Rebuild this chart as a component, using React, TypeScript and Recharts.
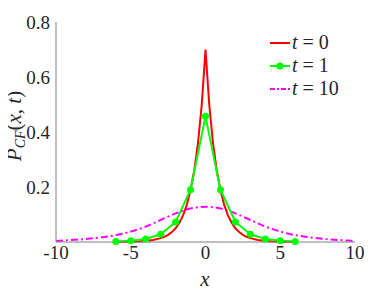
import { LineChart, Line, XAxis, YAxis, Legend } from 'recharts';

// t = 0 (red)
const redX = [-6, -5.5, -5, -4.5, -4, -3.5, -3, -2.75, -2.5, -2.25, -2, -1.75, -1.5, -1.25, -1, -0.75, -0.5, -0.25, 0,
  0.25, 0.5, 0.75, 1, 1.25, 1.5, 1.75, 2, 2.25, 2.5, 2.75, 3, 3.5, 4, 4.5, 5, 5.5, 6];
const redY = [0, 0.0005, 0.001, 0.002, 0.004, 0.007, 0.014, 0.019, 0.026, 0.036, 0.05, 0.07, 0.097, 0.135, 0.19, 0.26, 0.36, 0.5, 0.7,
  0.5, 0.36, 0.26, 0.19, 0.135, 0.097, 0.07, 0.05, 0.036, 0.026, 0.019, 0.014, 0.007, 0.004, 0.002, 0.001, 0.0005, 0];

// t = 1 (green, markers)
const greenX = [-6, -5, -4, -3, -2, -1, 0, 1, 2, 3, 4, 5, 6];
const greenY = [0.002, 0.005, 0.011, 0.028, 0.073, 0.19, 0.457, 0.19, 0.073, 0.028, 0.011, 0.005, 0.002];

// t = 10 (magenta, dash-dot)
const magentaX = [-10, -9, -8, -7, -6, -5, -4, -3, -2, -1, 0, 1, 2, 3, 4, 5, 6, 7, 8, 9, 10];
const magentaY = [0.004, 0.007, 0.011, 0.017, 0.025, 0.038, 0.056, 0.08, 0.104, 0.122, 0.128,
  0.122, 0.104, 0.08, 0.056, 0.038, 0.025, 0.017, 0.011, 0.007, 0.004];

const xTicks = [-10, -5, 0, 5, 10];
const yTicks = [0.2, 0.4, 0.6, 0.8];

const legendItems = [
  { label: '0', color: '#ff0000', dash: undefined, dot: false },
  { label: '1', color: '#00ff00', dash: undefined, dot: true },
  { label: '10', color: '#ff00ff', dash: '5 2 2 2', dot: false },
];

const toRows = (xs: number[], ys: number[]) => xs.map((x, i) => ({ x, y: ys[i] }));
const redData = toRows(redX, redY);
const greenData = toRows(greenX, greenY);
const magentaData = toRows(magentaX, magentaY);

const FONT = 'Liberation Serif';
const AXIS = '#808080';
const INK = '#262626';

const YLabel = () => (
  <text
    x={21}
    y={126}
    transform="rotate(-90 21 126)"
    textAnchor="middle"
    fontFamily={FONT}
    style={{ fontFamily: FONT }}
    fontSize={21}
    fill={INK}
  >
    <tspan fontStyle="italic">P</tspan>
    <tspan fontStyle="italic" fontSize={14} dy={4}>CF</tspan>
    <tspan dy={-4}>(</tspan>
    <tspan fontStyle="italic">x</tspan>
    <tspan>, </tspan>
    <tspan fontStyle="italic">t</tspan>
    <tspan>)</tspan>
  </text>
);

const XLabel = () => (
  <text
    x={205}
    y={286}
    textAnchor="middle"
    fontFamily={FONT}
    style={{ fontFamily: FONT }}
    fontSize={21}
    fontStyle="italic"
    fill={INK}
  >
    x
  </text>
);

const renderLegend = () => (
  <svg width={100} height={72}>
    {legendItems.map((item, i) => {
      const cy = 13 + i * 23;
      return (
        <g key={item.label}>
          <line x1={2} x2={22} y1={cy} y2={cy} stroke={item.color} strokeWidth={2} strokeDasharray={item.dash} />
          {item.dot && <circle cx={12} cy={cy} r={3.5} fill={item.color} />}
          <text x={24} y={cy + 6} fontFamily={FONT} style={{ fontFamily: FONT }} fontSize={20} fill={INK}>
            <tspan fontStyle="italic">t</tspan>
            <tspan> = {item.label}</tspan>
          </text>
        </g>
      );
    })}
  </svg>
);

export default function App() {
  return (
    <div style={{ margin: -8, width: 392, height: 294, background: '#fff' }}>
      <LineChart width={392} height={294} margin={{ top: 22, right: 37, bottom: 22, left: 16 }}>
        <XAxis
          xAxisId="b"
          dataKey="x"
          type="number"
          domain={[-10, 10]}
          ticks={xTicks}
          allowDataOverflow
          height={30}
          stroke={AXIS}
          tickLine={false}
          tickSize={4}
          tickMargin={0}
          tick={{ fontFamily: FONT, fontSize: 19, fill: INK }}
          label={<XLabel />}
        />
        <XAxis
          xAxisId="bm"
          dataKey="x"
          type="number"
          domain={[-10, 10]}
          ticks={xTicks}
          height={0}
          mirror
          axisLine={false}
          tick={false}
          tickSize={3}
          stroke={AXIS}
        />
        <XAxis
          xAxisId="t"
          orientation="top"
          dataKey="x"
          type="number"
          domain={[-10, 10]}
          ticks={xTicks}
          height={0}
          mirror
          tick={false}
          tickSize={3}
          stroke={AXIS}
        />
        <YAxis
          yAxisId="l"
          type="number"
          domain={[0, 0.8]}
          ticks={yTicks}
          width={40}
          stroke={AXIS}
          tickLine={false}
          tickSize={6}
          tickMargin={0}
          tick={{ fontFamily: FONT, fontSize: 19, fill: INK }}
          label={<YLabel />}
        />
        <YAxis
          yAxisId="lm"
          type="number"
          domain={[0, 0.8]}
          ticks={yTicks}
          width={0}
          mirror
          axisLine={false}
          tick={false}
          tickSize={3}
          stroke={AXIS}
        />
        <YAxis
          yAxisId="r"
          orientation="right"
          type="number"
          domain={[0, 0.8]}
          ticks={yTicks}
          width={0}
          mirror
          tick={false}
          tickSize={3}
          stroke={AXIS}
        />
        <Legend
          layout="vertical"
          align="center"
          verticalAlign="middle"
          content={renderLegend}
          wrapperStyle={{ left: 268, top: 30, width: 100, height: 72 }}
        />
        <Line
          xAxisId="b"
          yAxisId="l"
          data={magentaData}
          dataKey="y"
          type="monotone"
          stroke="#ff00ff"
          strokeWidth={2}
          strokeDasharray="7 3 2 3"
          dot={false}
          isAnimationActive={false}
        />
        <Line
          xAxisId="b"
          yAxisId="l"
          data={redData}
          dataKey="y"
          type="linear"
          stroke="#ff0000"
          strokeWidth={2}
          dot={false}
          isAnimationActive={false}
        />
        <Line
          xAxisId="b"
          yAxisId="l"
          data={greenData}
          dataKey="y"
          type="linear"
          stroke="#00ff00"
          strokeWidth={2}
          dot={{ r: 3.5, fill: '#00ff00', stroke: '#00ff00', strokeWidth: 0 }}
          isAnimationActive={false}
        />
      </LineChart>
    </div>
  );
}
